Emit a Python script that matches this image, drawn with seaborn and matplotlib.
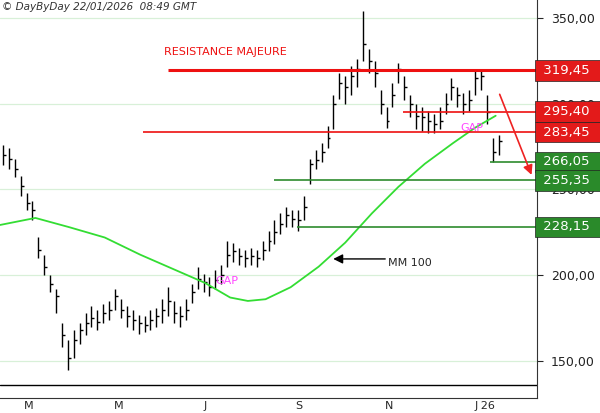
import matplotlib
matplotlib.use("Agg")
import matplotlib.pyplot as plt
import matplotlib.transforms as mtrans
import seaborn as sns
import pandas as pd

closes = [270,268,262,252,242,238,215,205,195,188,165,152,162,168,172,175,173,178,180,188,
          180,176,174,172,171,174,176,180,185,178,176,180,190,198,196,193,197,200,212,214,
          211,210,211,210,215,220,225,230,235,233,232,240,265,267,272,280,300,312,310,316,
          320,335,325,318,300,290,305,320,310,300,293,292,290,288,290,300,310,305,300,302,
          315,316,295,272,278]
highs = [276,274,268,258,248,243,222,212,200,192,172,162,168,172,178,182,180,183,185,192,
         186,182,180,177,176,180,181,186,193,185,182,186,195,205,201,199,203,206,220,219,
         216,215,216,215,220,226,232,236,240,238,238,246,268,273,277,287,305,318,316,322,
         326,354,332,325,308,298,312,324,316,305,300,298,296,294,298,306,315,310,306,308,
         320,320,305,280,282]
lows = [264,262,257,246,238,232,210,200,190,178,158,145,152,160,165,170,168,172,174,180,
        175,170,168,166,167,168,170,172,176,172,170,174,184,192,190,188,192,195,205,208,
        206,205,206,205,209,214,218,224,228,228,226,232,253,262,266,274,285,303,300,305,
        310,325,318,310,294,286,298,312,302,292,285,284,283,283,285,294,302,298,294,296,
        305,308,288,266,270]
dates = pd.date_range("2025-02-17", periods=len(closes), freq="4D")

mm_dates = pd.to_datetime(["2025-02-15","2025-03-11","2025-04-03","2025-04-27","2025-05-21",
            "2025-06-14","2025-07-04","2025-07-21","2025-08-02","2025-08-14","2025-08-31",
            "2025-09-19","2025-10-07","2025-10-25","2025-11-12","2025-11-30","2025-12-19",
            "2026-01-03","2026-01-17"])
mm_values = [229.3,233.4,228,222,212,203,195.5,187,185,186,193,205,219,236,251.5,265,277,286,293]

levels = [319.45, 295.40, 283.45, 266.05, 255.35, 228.15]
level_starts = ["2025-06-09","2025-11-15","2025-05-23","2026-01-13","2025-08-20","2025-09-04"]
level_colors = ["#ee1111","#ee1111","#ee1111","#2e8b2e","#2e8b2e","#2e8b2e"]
level_widths = [2.2,1.2,1.2,1.2,1.2,1.2]
box_colors = ["#e31a1a","#e31a1a","#e31a1a","#2a8a2a","#2a8a2a","#2a8a2a"]

month_ticks = pd.to_datetime(["2025-03-01","2025-05-01","2025-07-01","2025-09-01","2025-11-01","2026-01-01"])
month_labels = ["M","M","J","S","N","J 26"]
ytick_vals = [150,200,250,300,350]

sns.set_style("white")
plt.rcParams['font.family'] = ['DejaVu Sans']
fig = plt.figure(figsize=(6, 4.13), dpi=100)
ax = fig.add_axes([0, 15/413, 537/600, 398/413])
ax.set_ylim(128.4, 360.5)
ax.set_xlim(pd.Timestamp("2025-02-15"), pd.Timestamp("2026-02-14"))

for v in ytick_vals:
    ax.axhline(v, color="#d8f0d8", lw=0.9, zorder=0)

ax.vlines(dates, lows, highs, color="black", lw=1)
ax.hlines(closes, dates, dates + pd.Timedelta(days=2), color="black", lw=1)

sns.lineplot(x=mm_dates, y=mm_values, ax=ax, color="#33dd33", lw=1.3)

end = pd.Timestamp("2026-02-14")
for lv, st, c, w in zip(levels, level_starts, level_colors, level_widths):
    ax.hlines(lv, pd.Timestamp(st), end, color=c, lw=w)

ax.axhline(136, color="black", lw=1)

trans = mtrans.blended_transform_factory(ax.transAxes, ax.transData)
for lv, bc in zip(levels, box_colors):
    ax.text(1.003, lv, " " + f"{lv:.2f}".replace(".", ",") + "  ", transform=trans, ha="left",
            va="center", color="white", fontsize=9.5, clip_on=False, zorder=10,
            bbox=dict(boxstyle="square,pad=0.28", fc=bc, ec="#222222", lw=0.5))

ax.annotate("", xy=(pd.Timestamp("2026-02-11"), 257), xytext=(pd.Timestamp("2026-01-19"), 307),
            arrowprops=dict(arrowstyle="-|>", color="#ee2222", lw=1.2, mutation_scale=14))
ax.annotate("", xy=(pd.Timestamp("2025-09-27"), 209.5), xytext=(pd.Timestamp("2025-11-05"), 209.5),
            arrowprops=dict(arrowstyle="-|>", color="black", lw=1, mutation_scale=14))
ax.text(pd.Timestamp("2025-11-05"), 207, "MM 100", fontsize=8, va="center", ha="left")
ax.text(pd.Timestamp("2025-07-11"), 196.7, "GAP", fontsize=8, color="#ff44ff", va="center")
ax.text(pd.Timestamp("2025-12-24"), 286, "GAP", fontsize=8, color="#ff44ff", va="center")
ax.text(pd.Timestamp("2025-06-06"), 330, "RESISTANCE MAJEURE", fontsize=8, color="#ee1111", va="center")
fig.text(0.003, 0.995, "© DayByDay 22/01/2026  08:49 GMT", fontsize=7.5, style="italic",
         color="#333333", ha="left", va="top")

ax.yaxis.tick_right()
ax.set_yticks(ytick_vals)
ax.set_yticklabels([f"{v},00" for v in ytick_vals], fontsize=9, color="#222222")
ax.tick_params(axis="y", direction="out", length=4, pad=6)
ax.set_xticks(month_ticks)
ax.set_xticklabels(month_labels, ha="left", fontsize=8)
ax.tick_params(axis="x", direction="out", length=14, pad=-12)
for lbl in ax.get_xticklabels():
    lbl.set_transform(lbl.get_transform() + mtrans.ScaledTranslation(2/72, 0, fig.dpi_scale_trans))
for s in ["top", "left"]:
    ax.spines[s].set_visible(False)
ax.spines["right"].set_color("#333333")
ax.spines["bottom"].set_color("#333333")
ax.set_xlabel(""); ax.set_ylabel("")
fig.savefig("out.png", dpi=100)
